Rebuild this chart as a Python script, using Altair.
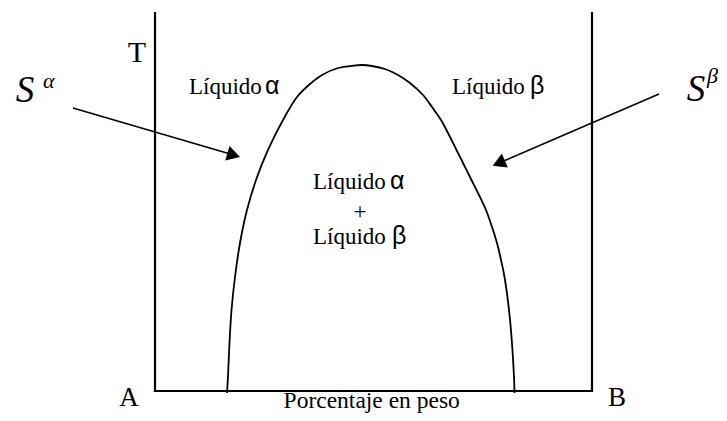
import altair as alt
import pandas as pd

# Coordinates: x = weight percent (0 = A, 100 = B), t = temperature (arbitrary, 0..100)
curve_x = [16.48, 16.70, 17.05, 17.51, 18.31, 19.45, 21.05, 23.11, 25.86, 29.29, 32.49,
           35.47, 38.22, 41.88, 45.77, 47.37, 49.66, 52.63, 55.61, 58.35, 61.33, 63.39,
           65.45, 67.51, 68.99, 70.71, 72.43, 74.14, 75.74, 77.12, 78.26, 79.18, 79.98,
           81.01, 81.69, 82.15, 82.27]
curve_t = [-0.53, 3.70, 12.70, 21.43, 30.16, 39.15, 47.88, 55.82, 63.76, 71.69, 77.78,
           81.22, 83.60, 85.45, 86.11, 86.24, 85.98, 85.19, 83.60, 81.48, 78.31, 75.13,
           71.69, 67.20, 63.76, 59.79, 55.82, 51.85, 47.88, 43.39, 39.15, 34.66, 30.16,
           21.43, 12.70, 3.70, -0.53]

# Frame lines (left axis, right axis, bottom)
frame_x = [0, 100, 0]
frame_x2 = [0, 100, 100]
frame_t = [0, 0, 0]
frame_t2 = [100, 100, 0]

# Arrows: start point, head position, head rotation
arrow_x = [-18.76, 115.33]
arrow_t = [74.87, 78.57]
head_x = [18.01, 78.67]
head_t = [62.41, 60.29]
head_angle = [106.4, 246.7]

# Serif labels
serif_text = ["T", "Líquido", "Líquido", "Líquido", "+", "Líquido"]
serif_x = [-4.12, 7.78, 67.96, 36.16, 46.91, 36.16]
serif_t = [87.04, 78.57, 78.57, 53.44, 45.50, 38.89]
serif_align = ["center", "left", "left", "left", "center", "left"]

# Greek letters following "Líquido"
greek_text = ["α", "β", "α", "β"]
greek_x = [25.17, 85.81, 53.78, 54.23]
greek_t = [78.57, 78.57, 53.44, 38.89]

# Bottom labels
bottom_text = ["A", "B"]
bottom_x = [-5.95, 105.72]
bottom_t = [-3.97, -3.97]
xlabel_text = ["Porcentaje en peso"]
xlabel_x = [49.59]
xlabel_t = [-4.50]

# Surface labels S^alpha, S^beta
s_text = ["S", "S"]
s_x = [-29.75, 123.80]
s_t = [76.46, 76.72]
sup_text = ["α", "β"]
sup_x = [-25.63, 126.30]
sup_t = [80.16, 81.48]

xs = alt.Scale(domain=[-33.638, 129.062], nice=False, zero=False)
ys = alt.Scale(domain=[-5.820, 101.323], nice=False, zero=False)

curve_df = pd.DataFrame({"x": curve_x, "t": curve_t, "i": range(len(curve_x))})
frame_df = pd.DataFrame({"x": frame_x, "x2": frame_x2, "t": frame_t, "t2": frame_t2})
arrow_df = pd.DataFrame({"x": arrow_x, "t": arrow_t, "x2": head_x, "t2": head_t})
head_df = pd.DataFrame({"x": head_x, "t": head_t, "angle": head_angle})

frame = alt.Chart(frame_df).mark_rule(color="black", strokeWidth=2.2, strokeCap="square").encode(
    x=alt.X("x:Q", scale=xs, axis=None), x2="x2:Q",
    y=alt.Y("t:Q", scale=ys, axis=None), y2="t2:Q")

curve = alt.Chart(curve_df).mark_line(color="black", strokeWidth=1.8, interpolate="catmull-rom").encode(
    x=alt.X("x:Q", scale=xs, axis=None),
    y=alt.Y("t:Q", scale=ys, axis=None),
    order="i:Q")

arrows = alt.Chart(arrow_df).mark_rule(color="black", strokeWidth=1.6).encode(
    x=alt.X("x:Q", scale=xs, axis=None), x2="x2:Q",
    y=alt.Y("t:Q", scale=ys, axis=None), y2="t2:Q")

heads = alt.Chart(head_df).mark_point(shape="triangle-up", filled=True, color="black",
                                      size=230, opacity=1, strokeWidth=0).encode(
    x=alt.X("x:Q", scale=xs, axis=None),
    y=alt.Y("t:Q", scale=ys, axis=None),
    angle=alt.Angle("angle:Q", scale=None))


def text_layer(texts, xv, tv, font, size, align="left", style="normal", aligns=None):
    df = pd.DataFrame({"x": xv, "t": tv, "label": texts})
    if aligns is not None:
        layers = []
        for a in sorted(set(aligns)):
            sub = df[[al == a for al in aligns]]
            layers.append(alt.Chart(sub).mark_text(font=font, fontSize=size, align=a,
                                                   baseline="alphabetic", color="black",
                                                   fontStyle=style).encode(
                x=alt.X("x:Q", scale=xs, axis=None),
                y=alt.Y("t:Q", scale=ys, axis=None),
                text="label:N"))
        return alt.layer(*layers)
    return alt.Chart(df).mark_text(font=font, fontSize=size, align=align, baseline="alphabetic",
                                   color="black", fontStyle=style).encode(
        x=alt.X("x:Q", scale=xs, axis=None),
        y=alt.Y("t:Q", scale=ys, axis=None),
        text="label:N")


serif_main = text_layer(serif_text[1:], serif_x[1:], serif_t[1:], "Liberation Serif", 23,
                        aligns=serif_align[1:])
t_label = text_layer(serif_text[:1], serif_x[:1], serif_t[:1], "Liberation Serif", 30, align="center")
greek = text_layer(greek_text, greek_x, greek_t, "Liberation Sans", 25, align="left")
ab = text_layer(bottom_text, bottom_x, bottom_t, "Liberation Serif", 27, align="center")
xlabel = text_layer(xlabel_text, xlabel_x, xlabel_t, "Liberation Serif", 23.5, align="center")
s_big = text_layer(s_text, s_x, s_t, "Liberation Serif", 37, align="center", style="italic")
s_sup = text_layer(sup_text, sup_x, sup_t, "Liberation Serif", 22, align="left", style="italic")

chart = alt.layer(frame, curve, arrows, heads, serif_main, t_label, greek, ab, xlabel,
                  s_big, s_sup).properties(
    width=711, height=405, padding=0,
    autosize=alt.AutoSizeParams(type="none"),
    background="white",
).configure_view(stroke=None)

chart.save("out.html", embed_options={"renderer": "svg", "actions": False})
